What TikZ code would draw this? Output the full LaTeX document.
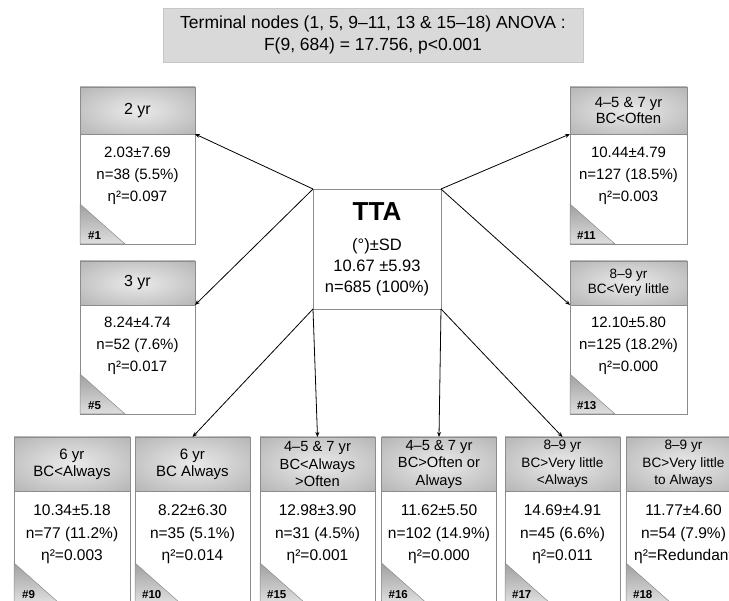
\documentclass[tikz,border=0pt]{standalone}
\usepackage{fontspec}
\setmainfont{Liberation Sans}
\usetikzlibrary{arrows.meta,positioning}
\definecolor{Frame}{HTML}{8C8C8C}
\definecolor{Banner}{HTML}{D9D9D9}
\pgfdeclareradialshading{hdrglow}{\pgfpoint{0bp}{0bp}}{color(0bp)=(gray!16); color(50bp)=(gray!75); color(72bp)=(gray!85)}

\begin{document}
\begin{tikzpicture}[x=1pt,y=-1pt,
 hdr/.style={draw=Frame,line width=0.9pt,shade,shading=hdrglow,align=center,inner sep=1pt,outer sep=0pt,
   minimum width=115pt,font=\fontsize{15}{17}\selectfont},
 frame/.style={draw=Frame,line width=0.9pt,fill=white,minimum width=115pt,inner sep=0pt,outer sep=0pt},
 vals/.style={align=center,inner sep=0pt,font=\fontsize{15}{22}\selectfont},
 lowvals/.style={vals,font=\fontsize{15.5}{22.5}\selectfont},
 tag/.style={anchor=base west,inner sep=0pt,font=\fontsize{11.5}{13}\selectfont\bfseries},
 corner/.style={draw=Frame,line width=0.5pt,top color=gray!75,bottom color=gray!25},
 link/.style={-{Stealth[length=5pt,width=4pt]},line width=0.8pt}]
\useasboundingbox (0,0) rectangle (729,601);
\clip (0,0) rectangle (729,601);
% ANOVA banner
\node[draw=gray!45,fill=Banner,minimum width=420pt,minimum height=54pt,align=center,
  font=\fontsize{17.5}{22}\selectfont] (anova) at (373,35)
  {Terminal nodes (1, 5, 9–11, 13 \& 15–18) ANOVA :\\F(9, 684) = 17.756, p<0.001};
% root
\node[draw=Frame,line width=0.9pt,fill=white,minimum width=128pt,minimum height=120pt,outer sep=0pt,
  align=center,font=\fontsize{16.5}{21}\selectfont] (tta) at (377,249)
  {{\fontsize{26}{28}\selectfont\bfseries TTA}\\[9pt](°)±SD\\10.67 ±5.93\\n=685 (100\%)};
% left column
\node[hdr,minimum height=47pt,font=\fontsize{16}{18}\selectfont] (h1) at (137.5,110.5) {2 yr};
\node[frame,minimum height=110pt,below=0pt of h1] (f1) {};
\node[vals] (v1) at ([yshift=-42pt]h1.south) {2.03±7.69\\n=38 (5.5\%)\\η²=0.097};
\node[hdr,minimum height=44pt,font=\fontsize{16}{18}\selectfont] (h5) at (137.5,283) {3 yr};
\node[frame,minimum height=109pt,below=0pt of h5] (f5) {};
\node[vals] (v5) at ([yshift=-41pt]h5.south) {8.24±4.74\\n=52 (7.6\%)\\η²=0.017};
% right column
\node[hdr,minimum width=117pt,minimum height=47pt,font=\fontsize{14.8}{16}\selectfont] (h11) at (628.5,110.5) {4–5 \& 7 yr\\BC<Often};
\node[frame,minimum width=117pt,minimum height=110pt,below=0pt of h11] (f11) {};
\node[vals] (v11) at ([yshift=-42pt]h11.south) {10.44±4.79\\n=127 (18.5\%)\\η²=0.003};
\node[hdr,minimum width=117pt,minimum height=44pt,font=\fontsize{13.5}{15}\selectfont] (h13) at (628.5,283) {8–9 yr\\BC<Very little};
\node[frame,minimum width=117pt,minimum height=109pt,below=0pt of h13] (f13) {};
\node[vals] (v13) at ([yshift=-41pt]h13.south) {12.10±5.80\\n=125 (18.2\%)\\η²=0.000};
% bottom row
\node[hdr,minimum width=116pt,minimum height=54pt] (h9) at (72,464) {6 yr\\BC<Always};
\node[frame,minimum width=116pt,minimum height=112pt,below=0pt of h9] (f9) {};
\node[lowvals] (v9) at ([yshift=-43.5pt]h9.south) {10.34±5.18\\n=77 (11.2\%)\\η²=0.003};
\node[hdr,minimum height=54pt] (h10) at (192.5,464) {6 yr\\BC Always};
\node[frame,minimum height=112pt,below=0pt of h10] (f10) {};
\node[lowvals] (v10) at ([yshift=-43.5pt]h10.south) {8.22±6.30\\n=35 (5.1\%)\\η²=0.014};
\node[hdr,minimum height=54pt,font=\fontsize{14.7}{17.5}\selectfont] (h15) at (317.5,464) {4–5 \& 7 yr\\BC<Always\\>Often};
\node[frame,minimum height=112pt,below=0pt of h15] (f15) {};
\node[lowvals] (v15) at ([yshift=-43.5pt]h15.south) {12.98±3.90\\n=31 (4.5\%)\\η²=0.001};
\node[hdr,minimum height=54pt,font=\fontsize{14.7}{17.5}\selectfont] (h16) at (439,464) {4–5 \& 7 yr\\BC>Often or\\Always};
\node[frame,minimum height=112pt,below=0pt of h16] (f16) {};
\node[lowvals] (v16) at ([yshift=-43.5pt]h16.south) {11.62±5.50\\n=102 (14.9\%)\\η²=0.000};
\node[hdr,minimum height=54pt,font=\fontsize{13.6}{17.5}\selectfont] (h17) at (562.5,464) {8–9 yr\\BC>Very little\\<Always};
\node[frame,minimum height=112pt,below=0pt of h17] (f17) {};
\node[lowvals] (v17) at ([yshift=-43.5pt]h17.south) {14.69±4.91\\n=45 (6.6\%)\\η²=0.011};
\node[hdr,minimum height=54pt,font=\fontsize{13.6}{17.5}\selectfont] (h18) at (683.5,464) {8–9 yr\\BC>Very little\\to Always};
\node[frame,minimum height=112pt,below=0pt of h18] (f18) {};
\node[lowvals] (v18) at ([yshift=-43.5pt]h18.south) {11.77±4.60\\n=54 (7.9\%)\\η²=Redundant};
% corner flags
\path[corner] (f1.south west) -- ++(0,-40) -- ++(45,40) -- cycle;
\path[corner] (f5.south west) -- ++(0,-40) -- ++(45,40) -- cycle;
\path[corner] (f11.south west) -- ++(0,-40) -- ++(45,40) -- cycle;
\path[corner] (f13.south west) -- ++(0,-40) -- ++(45,40) -- cycle;
\path[corner] (f9.south west) -- ++(0,-40) -- ++(45,40) -- cycle;
\path[corner] (f10.south west) -- ++(0,-40) -- ++(45,40) -- cycle;
\path[corner] (f15.south west) -- ++(0,-40) -- ++(45,40) -- cycle;
\path[corner] (f16.south west) -- ++(0,-40) -- ++(45,40) -- cycle;
\path[corner] (f17.south west) -- ++(0,-40) -- ++(45,40) -- cycle;
\path[corner] (f18.south west) -- ++(0,-40) -- ++(45,40) -- cycle;
\node[tag] (n1) at ([xshift=8pt,yshift=4pt]f1.south west) {\#1};
\node[tag] (n5) at ([xshift=8pt,yshift=4pt]f5.south west) {\#5};
\node[tag] (n11) at ([xshift=7pt,yshift=4pt]f11.south west) {\#11};
\node[tag] (n13) at ([xshift=7pt,yshift=4pt]f13.south west) {\#13};
\node[tag] (n9) at ([xshift=8pt,yshift=4pt]f9.south west) {\#9};
\node[tag] (n10) at ([xshift=7pt,yshift=4pt]f10.south west) {\#10};
\node[tag] (n15) at ([xshift=7pt,yshift=4pt]f15.south west) {\#15};
\node[tag] (n16) at ([xshift=7pt,yshift=4pt]f16.south west) {\#16};
\node[tag] (n17) at ([xshift=7pt,yshift=4pt]f17.south west) {\#17};
\node[tag] (n18) at ([xshift=7pt,yshift=4pt]f18.south west) {\#18};
% splits
\draw[link] (tta.north west) -- (h1.south east);
\draw[link] (tta.north west) -- (h5.south east);
\draw[link] (tta.north east) -- (h11.south west);
\draw[link] (tta.north east) -- (h13.south west);
\draw[link] (tta.south west) -- (h10.north);
\draw[link] (tta.south west) -- (h15.north);
\draw[link] (tta.south east) -- (h16.north);
\draw[link] (tta.south east) -- (h17.north);
\end{tikzpicture}
\end{document}
